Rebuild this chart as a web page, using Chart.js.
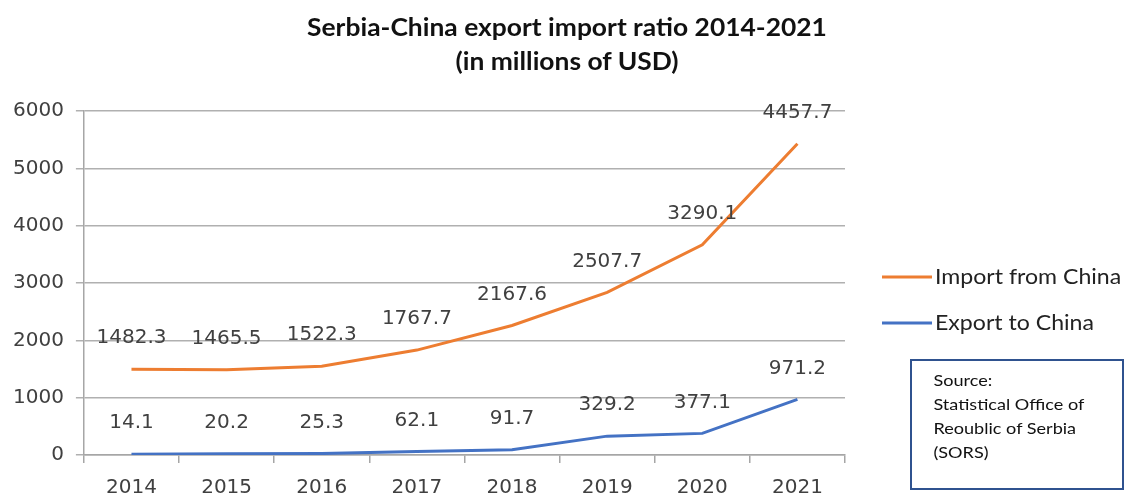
<!DOCTYPE html>
<html>
<head>
<meta charset="utf-8">
<script src="https://cdn.jsdelivr.net/npm/chart.js@4.4.0/dist/chart.umd.min.js"></script>
<style>
  body { margin: 0; background: #fff; }
  #wrap { position: relative; width: 1126px; height: 495px; }
  #title {
    position: absolute; left: 0; top: 10px; width: 1134px; text-align: center;
    font-family: Lato, sans-serif; font-weight: bold; font-size: 24px; line-height: 34px; color: #111;
    transform: scaleX(1.1); transform-origin: 567px 0;
  }
  #source {
    position: absolute; left: 910px; top: 359px; width: 214px; height: 131px;
    border: 2px solid #2f528f; box-sizing: border-box; color: #111;
  }
  #source div {
    font-family: Lato, sans-serif; font-size: 16px; line-height: 24px;
    padding: 7px 0 0 19px; transform: scaleX(1.13); transform-origin: 0 0; white-space: nowrap;
  }
</style>
</head>
<body>
<div id="wrap">
  <canvas id="chart"></canvas>
  <div id="title">Serbia-China export import ratio 2014-2021<br>(in millions of USD)</div>
  <div id="source"><div>Source:<br>Statistical Office of<br>Reoublic of Serbia<br>(SORS)</div></div>
</div>
<script>
// Data (millions of USD)
const years = ["2014", "2015", "2016", "2017", "2018", "2019", "2020", "2021"];
const importFromChina = [1482.3, 1465.5, 1522.3, 1767.7, 2167.6, 2507.7, 3290.1, 4457.7];
const exportToChina = [14.1, 20.2, 25.3, 62.1, 91.7, 329.2, 377.1, 971.2];
const yTicks = [0, 1000, 2000, 3000, 4000, 5000, 6000];

const numFont = "20px 'DejaVu Sans', sans-serif";

// value labels above each point
const valueLabels = {
  id: "valueLabels",
  afterDatasetsDraw(chart) {
    const ctx = chart.ctx;
    ctx.save();
    ctx.font = numFont;
    ctx.fillStyle = "#404040";
    ctx.textAlign = "center";
    ctx.textBaseline = "middle";
    chart.data.datasets.forEach((ds, i) => {
      chart.getDatasetMeta(i).data.forEach((pt, j) => {
        ctx.fillText(ds.data[j].toFixed(1), pt.x, pt.y - 31);
      });
    });
    ctx.restore();
  }
};

// legend on the right, import first
const sideLegend = {
  id: "sideLegend",
  afterDraw(chart) {
    const ctx = chart.ctx;
    const order = [1, 0];
    ctx.save();
    ctx.font = "21px Lato, sans-serif";
    ctx.textBaseline = "middle";
    ctx.textAlign = "left";
    order.forEach((idx, k) => {
      const ds = chart.data.datasets[idx];
      const y = 277 + k * 46;
      ctx.strokeStyle = ds.borderColor;
      ctx.lineWidth = 3;
      ctx.beginPath();
      ctx.moveTo(882, y);
      ctx.lineTo(932, y);
      ctx.stroke();
      ctx.save();
      ctx.translate(935, y);
      ctx.scale(1.1, 1);
      ctx.fillStyle = "#222";
      ctx.fillText(ds.label, 0, 0);
      ctx.restore();
    });
    ctx.restore();
  }
};

new Chart(document.getElementById("chart"), {
  type: "line",
  data: {
    labels: years,
    datasets: [
      {
        label: "Export to China",
        data: exportToChina,
        borderColor: "#4472c4",
        borderWidth: 3,
        pointRadius: 0,
        tension: 0,
        fill: false
      },
      {
        label: "Import from China",
        data: importFromChina,
        borderColor: "#ed7d31",
        borderWidth: 3,
        pointRadius: 0,
        tension: 0,
        fill: false
      }
    ]
  },
  options: {
    responsive: true,
    maintainAspectRatio: false,
    animation: false,
    layout: { padding: { left: 1, right: 281, top: 111, bottom: 0 } },
    plugins: {
      legend: { display: false },
      tooltip: { enabled: false },
      title: { display: false }
    },
    scales: {
      x: {
        offset: true,
        afterFit: (axis) => { axis.height = 40; },
        grid: { offset: true, drawOnChartArea: false, drawTicks: true, tickLength: 8, color: "#a6a6a6", lineWidth: 1.5 },
        border: { color: "#a6a6a6", width: 1.5 },
        ticks: { color: "#404040", font: { family: "'DejaVu Sans', sans-serif", size: 20, lineHeight: 1 }, padding: 15, maxRotation: 0 }
      },
      y: {
        stacked: true,
        min: yTicks[0],
        max: yTicks[yTicks.length - 1],
        afterBuildTicks: (axis) => { axis.ticks = yTicks.map(v => ({ value: v })); },
        grid: { color: "#b0b0b0", lineWidth: 1.5, tickLength: 8 },
        border: { color: "#a6a6a6", width: 1.5 },
        ticks: { color: "#404040", font: { family: "'DejaVu Sans', sans-serif", size: 20 }, padding: 12, callback: (v) => String(v) }
      }
    }
  },
  plugins: [valueLabels, sideLegend]
});
</script>
</body>
</html>
